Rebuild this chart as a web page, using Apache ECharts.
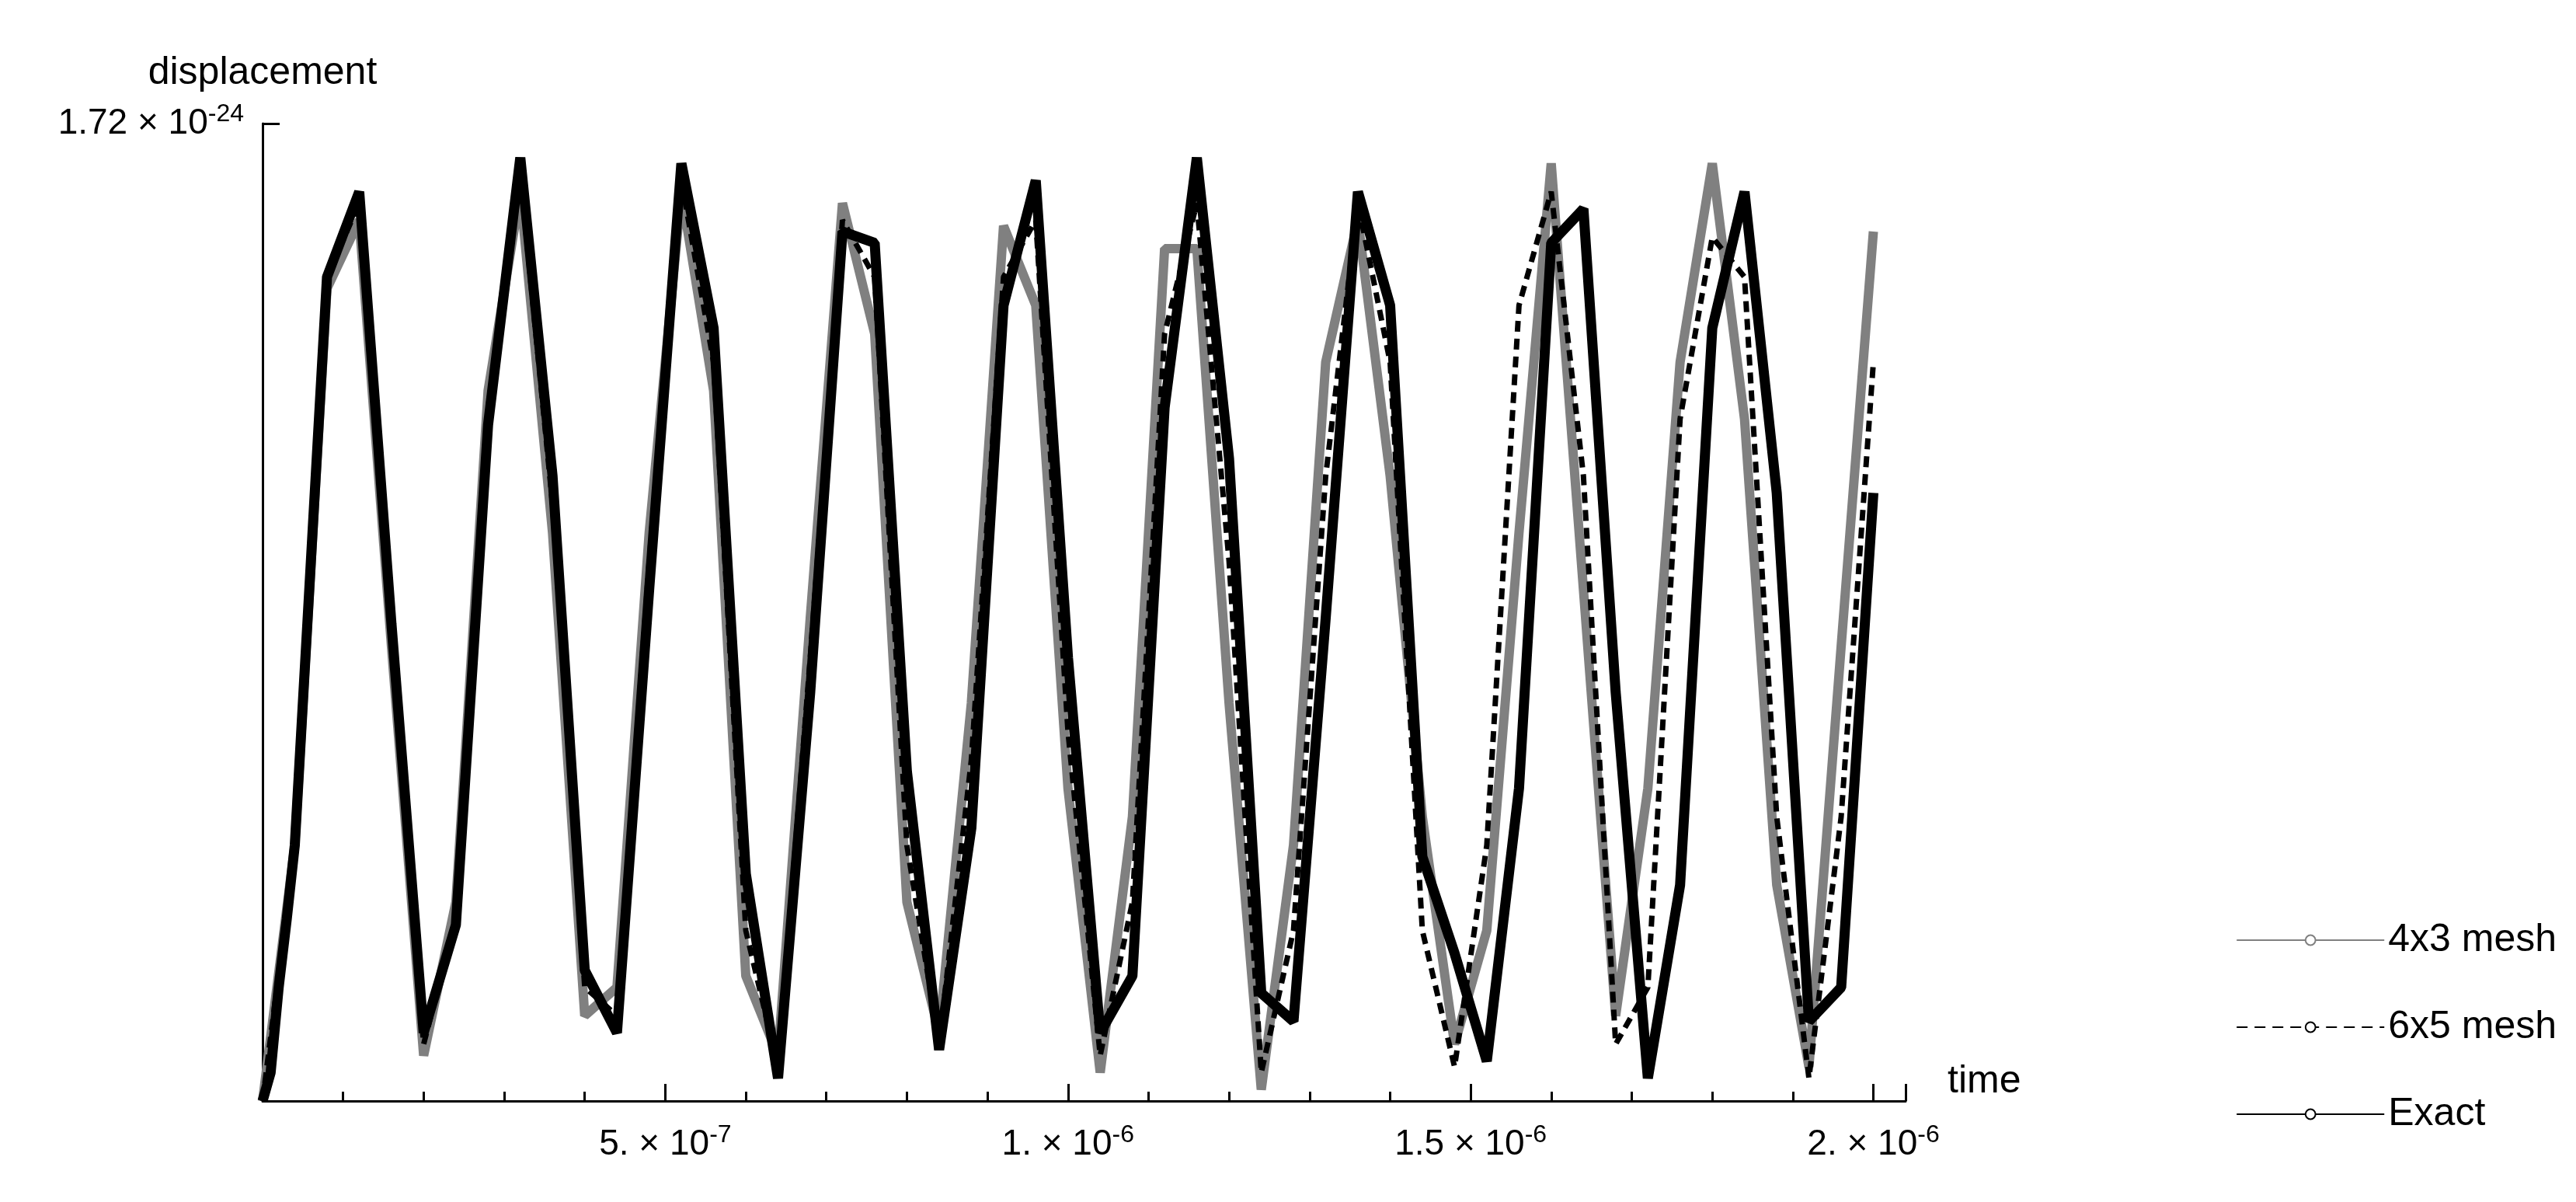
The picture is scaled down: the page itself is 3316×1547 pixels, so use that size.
<!DOCTYPE html>
<html><head><meta charset="utf-8">
<script src="https://cdn.jsdelivr.net/npm/echarts@6/dist/echarts.min.js"></script>
<style>html,body{margin:0;padding:0;background:#fff}#c{width:3316px;height:1547px}</style>
</head><body><div id="c"></div>
<script>
// times in units of 1e-8 s
const times = [0,4,8,12,16,20,24,28,32,36,40,44,48,52,56,60,64,68,72,76,80,84,88,92,96,100,104,108,112,116,120,124,128,132,136,140,144,148,152,156,160,164,168,172,176,180,184,188,192,196,200];
const exactTimes = [0,1,2,3,4,8,12,16,20,24,28,32,36,40,44,48,52,56,60,64,68,72,76,80,84,88,92,96,100,104,108,112,116,120,124,128,132,136,140,144,148,152,156,160,164,168,172,176,180,184,188,192,196,200];
// displacement in units of 1e-24
const mesh4x3 = [0,0.45,1.43,1.55,0.8,0.08,0.35,1.25,1.6,1.0,0.15,0.2,1.0,1.6,1.25,0.22,0.08,0.85,1.58,1.35,0.35,0.12,0.7,1.54,1.4,0.55,0.05,0.5,1.5,1.5,0.7,0.02,0.45,1.3,1.55,1.1,0.5,0.1,0.3,1.0,1.65,0.9,0.15,0.55,1.3,1.65,1.2,0.38,0.06,0.8,1.53];
const mesh6x5 = [0,0.45,1.45,1.58,0.82,0.1,0.32,1.22,1.63,1.05,0.2,0.15,0.95,1.62,1.3,0.3,0.06,0.78,1.55,1.45,0.45,0.1,0.6,1.45,1.55,0.65,0.08,0.35,1.35,1.58,0.95,0.05,0.3,1.1,1.58,1.3,0.3,0.06,0.45,1.4,1.6,1.1,0.1,0.2,1.2,1.52,1.45,0.5,0.04,0.5,1.3];
const exact = [0,0.05,0.2,0.32,0.45,1.45,1.6,0.84,0.12,0.31,1.19,1.66,1.1,0.23,0.12,0.9,1.65,1.36,0.4,0.04,0.72,1.53,1.51,0.58,0.09,0.48,1.4,1.62,0.78,0.12,0.22,1.22,1.66,1.13,0.19,0.14,0.85,1.6,1.4,0.43,0.26,0.07,0.55,1.51,1.57,0.72,0.04,0.38,1.36,1.6,1.07,0.14,0.2,1.07];
const xTicks = [5e-7,1e-6,1.5e-6,2e-6];
const yTicks = [5e-25,1e-24,1.5e-24];

function pair(ts,vs,tu,vu){return ts.map((t,i)=>[t*tu,vs[i]*vu]);}
function sci(v){
  if(Math.abs(v)<1e-40) return '';
  const e=Math.floor(Math.log10(Math.abs(v))+1e-9);
  let m=Math.round(v/Math.pow(10,e)*100)/100;
  let ms=Number.isInteger(m)?m+'.':String(m);
  return ms+' × 10{s|'+e+'}';
}
const font='Liberation Sans';
const chart=echarts.init(document.getElementById('c'));
chart.setOption({
  animation:false,
  backgroundColor:'#fff',
  textStyle:{fontFamily:font},
  grid:{left:338,right:863,top:159,bottom:130},
  legend:{right:20,top:1180,orient:'vertical',itemWidth:190,itemHeight:16,itemGap:62,
    textStyle:{fontSize:50,color:'#000',fontFamily:font},
    data:[{name:'4x3 mesh'},{name:'6x5 mesh'},{name:'Exact'}]},
  xAxis:{type:'value',min:0,max:2.04e-6,interval:5e-7,name:'time',nameLocation:'end',nameGap:14,
    nameTextStyle:{fontSize:50,color:'#000',verticalAlign:'bottom',padding:[0,0,0,40]},
    axisLine:{lineStyle:{color:'#000',width:3}},
    axisTick:{inside:true,length:22,lineStyle:{color:'#000',width:3}},
    minorTick:{show:true,splitNumber:5,length:12,lineStyle:{color:'#000',width:3}},
    splitLine:{show:false},
    axisLabel:{margin:28,fontSize:46,color:'#000',formatter:sci,rich:{s:{fontSize:32,verticalAlign:'top',padding:[0,0,24,0]}}}},
  yAxis:{type:'value',min:0,max:1.72e-24,interval:5e-25,name:'displacement',nameLocation:'end',nameGap:40,
    nameTextStyle:{fontSize:50,color:'#000',align:'center'},
    axisLine:{lineStyle:{color:'#000',width:3}},
    axisTick:{inside:true,length:22,lineStyle:{color:'#000',width:3}},
    minorTick:{show:true,splitNumber:5,length:12,lineStyle:{color:'#000',width:3}},
    splitLine:{show:false},
    axisLabel:{margin:24,fontSize:46,color:'#000',formatter:sci,rich:{s:{fontSize:32,verticalAlign:'top',padding:[0,0,24,0]}}}},
  series:[
    {name:'4x3 mesh',type:'line',data:pair(times,mesh4x3,1e-8,1e-24),showSymbol:false,lineStyle:{color:'#808080',width:12},itemStyle:{color:'#808080'}},
    {name:'6x5 mesh',type:'line',data:pair(times,mesh6x5,1e-8,1e-24),showSymbol:false,lineStyle:{color:'#000',width:7,type:[14,9]},itemStyle:{color:'#000'}},
    {name:'Exact',type:'line',data:pair(exactTimes,exact,1e-8,1e-24),showSymbol:false,lineStyle:{color:'#000',width:13},itemStyle:{color:'#000'}}
  ]
});
</script></body></html>
